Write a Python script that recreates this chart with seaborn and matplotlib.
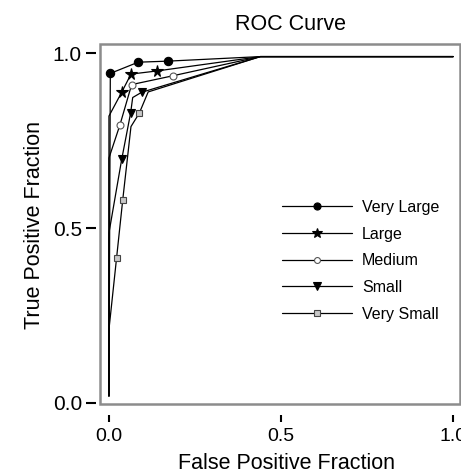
import pandas as pd
import numpy as np
import matplotlib
matplotlib.use('Agg')
import matplotlib.pyplot as plt
import seaborn as sns
from matplotlib.lines import Line2D
from matplotlib.patches import Rectangle

# ROC points (fpr, tpr), marked = index of points with a marker
series_names = ['Very Large', 'Large', 'Medium', 'Small', 'Very Small']

fpr_very_large = [0.0, 0.004, 0.085, 0.171, 0.44, 1.0]
tpr_very_large = [0.02, 0.942, 0.974, 0.977, 0.99, 0.99]
marked_very_large = [1, 2, 3]

fpr_large = [0.0, 0.0, 0.037, 0.064, 0.140, 0.44, 1.0]
tpr_large = [0.02, 0.82, 0.888, 0.940, 0.949, 0.99, 0.99]
marked_large = [2, 3, 4]

fpr_medium = [0.0, 0.0, 0.032, 0.066, 0.185, 0.44, 1.0]
tpr_medium = [0.02, 0.70, 0.795, 0.910, 0.935, 0.99, 0.99]
marked_medium = [2, 3, 4]

fpr_small = [0.0, 0.0, 0.037, 0.063, 0.069, 0.095, 0.44, 1.0]
tpr_small = [0.02, 0.486, 0.696, 0.829, 0.873, 0.888, 0.99, 0.99]
marked_small = [2, 3, 5]

fpr_very_small = [0.0, 0.0, 0.022, 0.040, 0.064, 0.088, 0.114, 0.44, 1.0]
tpr_very_small = [0.02, 0.21, 0.413, 0.58, 0.79, 0.828, 0.889, 0.99, 0.99]
marked_very_small = [2, 3, 5]

x_ticks = [0.0, 0.5, 1.0]
y_ticks = [0.0, 0.5, 1.0]

all_fpr = [fpr_very_large, fpr_large, fpr_medium, fpr_small, fpr_very_small]
all_tpr = [tpr_very_large, tpr_large, tpr_medium, tpr_small, tpr_very_small]
all_marked = [marked_very_large, marked_large, marked_medium, marked_small, marked_very_small]

rows = []
for name, xs, ys, mk in zip(series_names, all_fpr, all_tpr, all_marked):
    for i, (x, y) in enumerate(zip(xs, ys)):
        rows.append({'series': name, 'order': i, 'fpr': x, 'tpr': y, 'marked': i in mk})
df = pd.DataFrame(rows)

# marker styles: (marker, size, face, edge)
marker_style = {
    'Very Large': ('o', 6, 'black', 'black'),
    'Large': ('*', 8.5, 'black', 'black'),
    'Medium': ('o', 5, 'white', '#555555'),
    'Small': ('v', 6, 'black', 'black'),
    'Very Small': ('s', 4.5, '#c8c8c8', '#444444'),
}

sns.set_style('white')
plt.rcParams['font.family'] = ['Liberation Sans', 'DejaVu Sans']
plt.rcParams['text.color'] = 'black'
plt.rcParams['axes.labelcolor'] = 'black'

fig = plt.figure(figsize=(4.61, 4.74), dpi=100)
ax = fig.add_axes([100 / 461, 70 / 474, 360 / 461, 360 / 474])

sns.lineplot(data=df, x='fpr', y='tpr', units='series', estimator=None, sort=False,
             color='black', linewidth=0.9, ax=ax, legend=False)

for name in series_names:
    m, ms, fc, ec = marker_style[name]
    pts = df[(df['series'] == name) & (df['marked'])]
    ax.plot(pts['fpr'], pts['tpr'], linestyle='none', marker=m, markersize=ms,
            markerfacecolor=fc, markeredgecolor=ec, markeredgewidth=0.8, zorder=3)

# grey box drawn separately, ticks sit a little away from it
for s in ax.spines.values():
    s.set_visible(False)
ax.spines['bottom'].set_position(('outward', 8))
ax.spines['left'].set_position(('outward', 3))
ax.add_patch(Rectangle((0, 0), 1, 1, transform=ax.transAxes, fill=False,
                       edgecolor='#8c8c8c', linewidth=1.8, clip_on=False, zorder=5))

ax.set_xlim(-0.026, 1.02)
ax.set_ylim(-0.003, 1.026)
ax.set_xticks(x_ticks)
ax.set_yticks(y_ticks)
ax.set_xticklabels([f'{v:.1f}' for v in x_ticks])
ax.set_yticklabels([f'{v:.1f}' for v in y_ticks])
ax.tick_params(axis='x', bottom=True, direction='out', length=5, width=1.5, pad=4,
               colors='black', labelsize=14)
ax.tick_params(axis='y', left=True, direction='out', length=7, width=1.5, pad=3,
               colors='black', labelsize=15)

ax.set_title('ROC Curve', fontsize=15.5, x=0.528, pad=10, color='black')
ax.set_xlabel('False Positive Fraction', fontsize=15.5)
ax.set_ylabel('True Positive Fraction', fontsize=15.5)
ax.xaxis.set_label_coords(0.519, -0.137)
ax.yaxis.set_label_coords(-0.152, 0.497)

handles = []
for name in series_names:
    m, ms, fc, ec = marker_style[name]
    handles.append(Line2D([0], [0], color='black', linewidth=0.9, marker=m,
                          markersize=ms * 0.85, markerfacecolor=fc, markeredgecolor=ec,
                          markeredgewidth=0.8))
fig.legend(handles, series_names, loc='upper left', bbox_to_anchor=(282 / 461, 1 - 200 / 474),
           frameon=False, fontsize=11.5, handlelength=4.4, handletextpad=0.6,
           labelspacing=0.73, borderpad=0, borderaxespad=0, labelcolor='black')

fig.savefig('out.png', dpi=100)
